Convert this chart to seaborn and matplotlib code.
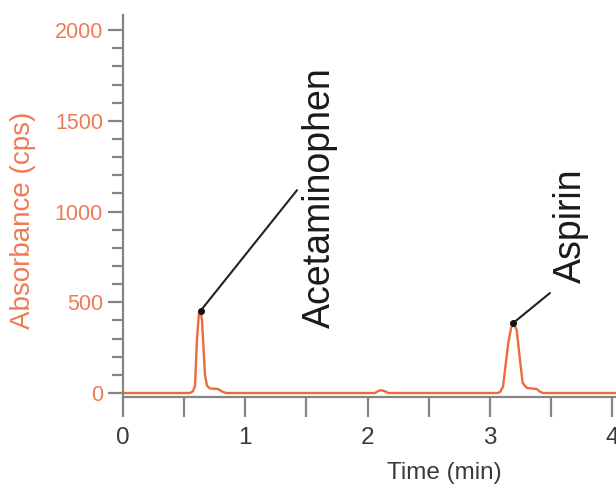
import matplotlib
matplotlib.use("Agg")
import matplotlib.pyplot as plt
from matplotlib.ticker import MultipleLocator
import seaborn as sns
import pandas as pd

# Chromatogram trace: retention time (min) and detector response (cps)
time_min = [0.00, 0.548, 0.572, 0.589, 0.605, 0.621, 0.634, 0.646, 0.658, 0.670,
            0.687, 0.711, 0.777, 0.810, 0.842,
            2.060, 2.090, 2.115, 2.140, 2.170,
            3.060, 3.083, 3.107, 3.150, 3.173, 3.191, 3.219, 3.246, 3.268, 3.301,
            3.383, 3.410, 3.434, 4.10]
absorbance = [0, 0, 10, 40, 300, 440, 453, 400, 250, 100,
              40, 25, 22, 8, 0,
              0, 12, 15, 10, 0,
              0, 5, 35, 275, 358, 386, 347, 182, 55, 28,
              22, 7, 0, 0]

# Labelled peaks
peak_names = ["Acetaminophen", "Aspirin"]
peak_time = [0.634, 3.191]
peak_height = [453, 386]

trace_color = "#EE6A3C"
label_color = "#F07A55"
axis_color = "#858585"
dark_text = "#3a3a3a"

sns.set_style("white")
plt.rcParams["font.family"] = ["Liberation Sans", "DejaVu Sans"]

fig = plt.figure(figsize=(6.16, 4.87), dpi=100)
ax = fig.add_axes([0.1997, 0.1848, 0.8003, 0.7844])

df = pd.DataFrame({"Time (min)": time_min, "Absorbance (cps)": absorbance})
sns.lineplot(data=df, x="Time (min)", y="Absorbance (cps)", ax=ax,
             color=trace_color, linewidth=1.7, estimator=None, sort=False)

ax.set_xlim(0, 4.031)
ax.set_ylim(-22, 2083)

for side in ("top", "right"):
    ax.spines[side].set_visible(False)
for side in ("left", "bottom"):
    ax.spines[side].set_color(axis_color)
    ax.spines[side].set_linewidth(1.6)

ax.xaxis.set_major_locator(MultipleLocator(1))
ax.xaxis.set_minor_locator(MultipleLocator(0.5))
ax.yaxis.set_major_locator(MultipleLocator(500))
ax.yaxis.set_minor_locator(MultipleLocator(100))

ax.tick_params(axis="x", which="both", direction="out", length=14.5, width=1.6,
               color=axis_color, bottom=True)
ax.tick_params(axis="x", which="major", pad=7, labelsize=17.5, labelcolor=dark_text)
ax.tick_params(axis="y", which="major", direction="out", length=11, width=1.6,
               color=axis_color, left=True, pad=3.5, labelsize=15.5,
               labelcolor=label_color)
ax.tick_params(axis="y", which="minor", direction="out", length=8, width=1.6,
               color=axis_color, left=True)

ax.set_xlabel("Time (min)", fontsize=17.5, color=dark_text)
ax.xaxis.set_label_coords(0.651, -0.170)
ax.set_ylabel("Absorbance (cps)", fontsize=20, color=label_color)
ax.yaxis.label.set(va="center", rotation_mode="default")
ax.yaxis.set_label_coords(-0.203, 0.463)

# Peak callouts: leader line from the apex, vertical name beside its end
leader_end = [(1.423, 1118), (3.491, 551)]
name_pos = [(1.611, 1074), (3.663, 920)]
for name, t, h, (ex, ey), (nx, ny) in zip(peak_names, peak_time, peak_height,
                                          leader_end, name_pos):
    ax.plot([t, ex], [h, ey], color="#222222", linewidth=1.5)
    ax.plot([t], [h], marker="o", markersize=4, color="#111111")
    ax.text(nx, ny, name, rotation=90, ha="center", va="center",
            fontsize=27, color="#1a1a1a")

fig.savefig("out.png", dpi=100)
